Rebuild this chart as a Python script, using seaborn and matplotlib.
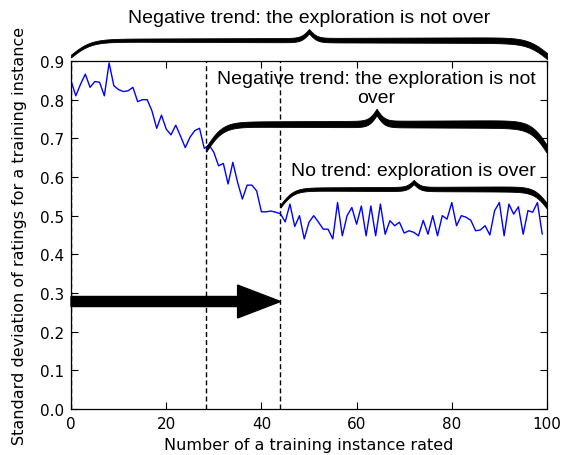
import numpy as np
import pandas as pd
import matplotlib
matplotlib.use("Agg")
import matplotlib.pyplot as plt
import seaborn as sns

# ---- data ----
std_values = [
    0.849, 0.810, 0.840, 0.866, 0.832, 0.847, 0.845, 0.810, 0.895, 0.836,
    0.826, 0.821, 0.823, 0.832, 0.795, 0.800, 0.800, 0.771, 0.726, 0.760,
    0.724, 0.709, 0.734, 0.706, 0.676, 0.703, 0.720, 0.726, 0.674, 0.683,
    0.664, 0.629, 0.635, 0.582, 0.638, 0.586, 0.543, 0.579, 0.579, 0.564,
    0.510, 0.510, 0.512, 0.509, 0.505, 0.484, 0.530, 0.472, 0.500, 0.440,
    0.483, 0.500, 0.483, 0.465, 0.465, 0.440, 0.534, 0.448, 0.500, 0.521,
    0.478, 0.525, 0.448, 0.525, 0.448, 0.530, 0.452, 0.487, 0.474, 0.483,
    0.455, 0.461, 0.457, 0.448, 0.488, 0.452, 0.500, 0.448, 0.500, 0.491,
    0.534, 0.474, 0.500, 0.496, 0.488, 0.461, 0.463, 0.474, 0.450, 0.513,
    0.534, 0.448, 0.530, 0.504, 0.523, 0.452, 0.513, 0.509, 0.534, 0.452,
]
instance_numbers = list(range(len(std_values)))
phase_boundaries = [0, 28.4, 44]
arrow_level = 0.278
brace_texts = [
    "Negative trend: the exploration is not over",
    "Negative trend: the exploration is not\nover",
    "No trend: exploration is over",
]
x_ticks = [0, 20, 40, 60, 80, 100]
y_ticks = [0.0, 0.1, 0.2, 0.3, 0.4, 0.5, 0.6, 0.7, 0.8, 0.9]

df = pd.DataFrame({"n": instance_numbers, "std": std_values})

sns.set_style("ticks")
plt.rcParams["font.family"] = ["DejaVu Sans"]
plt.rcParams["text.color"] = "black"
plt.rcParams["axes.labelcolor"] = "black"
plt.rcParams["xtick.color"] = "black"
plt.rcParams["ytick.color"] = "black"

fig = plt.figure(figsize=(5.61, 4.56), dpi=100)
ax = fig.add_axes([0.1266, 0.1009, 0.975 - 0.1266, 0.864 - 0.1009])

sns.lineplot(data=df, x="n", y="std", color="#0000ff", linewidth=1.0, ax=ax)

ax.set_xlim(0, 100)
ax.set_ylim(0, 0.9)
ax.set_xticks(x_ticks)
ax.set_yticks(y_ticks)
ax.set_yticklabels([f"{v:.1f}" for v in y_ticks])
ax.tick_params(direction="in", top=True, right=True, length=5, width=0.8,
               labelsize=11, colors="black", pad=5)
for s in ax.spines.values():
    s.set_color("black")
    s.set_linewidth(0.9)
ax.set_xlabel("Number of a training instance rated", fontsize=11.5, labelpad=4.5, color="black")
ax.set_ylabel("Standard deviation of ratings for a training instance", fontsize=11.5, labelpad=9, color="black")

for xb in phase_boundaries:
    ax.axvline(xb, color="black", linewidth=1.0, linestyle=(0, (3.6, 2.2)), zorder=1)

# arrow
ax.arrow(0, arrow_level, phase_boundaries[2], 0, width=0.026, head_width=0.085,
         head_length=9, length_includes_head=True, fc="black", ec="black",
         zorder=5, clip_on=False)

# pixel to data conversions
fig.canvas.draw()
px_x = 100 / (ax.get_window_extent().width)
px_y = 0.9 / (ax.get_window_extent().height)


def draw_brace(x0, x1, y_end, y_plateau, y_tip, b_end_px, b_tip_px, d_left_px, d_right_px):
    xm = 0.5 * (x0 + x1)
    x = np.linspace(x0, x1, 1201)
    b1 = b_end_px / px_x
    b2 = b_tip_px / px_x
    d_end = np.minimum(x - x0, x1 - x)
    d_mid = np.abs(x - xm)
    s_end = 2.0 / (1.0 + np.exp(-b1 * d_end)) - 1.0
    s_tip = 2.0 / (1.0 + np.exp(b2 * d_mid))
    y = y_end + (y_plateau - y_end) * s_end + (y_tip - y_plateau) * s_tip
    frac = (x - x0) / (x1 - x0)
    th = (d_left_px + (d_right_px - d_left_px) * frac) * px_y
    ax.fill_between(x, y - th / 2, y + th / 2, color="black", lw=0.6,
                    edgecolor="black", clip_on=False, zorder=6)


draw_brace(0, 100, 0.913, 0.954, 0.977, 0.10, 0.25, 2.8, 6.0)
draw_brace(28.4, 100, 0.672, 0.737, 0.768, 0.12, 0.25, 5.0, 8.0)
draw_brace(44, 100, 0.525, 0.569, 0.587, 0.15, 0.28, 3.0, 5.5)

tfont = dict(family=["Liberation Sans", "DejaVu Sans"], fontsize=14, ha="center",
             va="center", color="black")
ax.text(50, 1.012, brace_texts[0], clip_on=False, **tfont)
ax.text(64.2, 0.830, brace_texts[1], clip_on=False, linespacing=1.2, **tfont)
ax.text(72, 0.618, brace_texts[2], clip_on=False, **tfont)

fig.savefig("out.png", dpi=100)
